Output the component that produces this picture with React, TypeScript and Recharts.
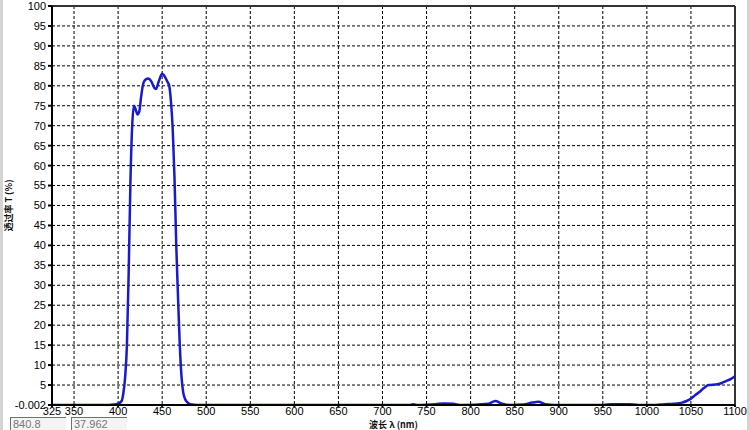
import React from 'react';
import { LineChart, Line, XAxis, YAxis, CartesianGrid, ReferenceLine } from 'recharts';

// wavelength (nm) and transmittance (%)
const wavelengths = [
  325, 350, 380, 390, 395, 400, 404, 406, 408, 410, 412, 414, 416, 418, 420, 422, 424, 426, 428, 430,
  434, 438, 441, 443, 446, 450, 453, 456, 458, 460, 462, 464, 466, 468, 470, 472, 474, 476, 478, 482,
  490, 500, 550, 600, 650, 700, 730, 735, 740, 760, 770, 780, 790, 820, 828, 835, 845, 860, 870, 877,
  885, 895, 950, 960, 980, 990, 1010, 1020, 1030, 1040, 1045, 1050, 1055, 1060, 1065, 1070, 1080, 1085,
  1090, 1095, 1100,
];
const transmittance = [
  0, 0, 0, 0, 0.1, 0.3, 1, 3, 7, 15, 33, 56, 70, 75, 74, 72.8, 73.5, 77, 80, 81.3,
  81.8, 81, 79.5, 79.2, 81, 83, 82.3, 81, 80, 76, 69, 57, 40, 27, 15, 7, 3, 1.5, 0.8, 0.2,
  0, 0, 0, 0, 0, 0, 0, 0.2, 0, 0.2, 0.4, 0.3, 0, 0.3, 1, 0.4, 0, 0.1, 0.6, 0.8,
  0.2, 0, 0, 0.2, 0.2, 0, 0, 0.2, 0.3, 0.6, 1, 1.6, 2.5, 3.3, 4.3, 5, 5.2, 5.5,
  6, 6.5, 7.2,
];

const xTicks = [325, 350, 400, 450, 500, 550, 600, 650, 700, 750, 800, 850, 900, 950, 1000, 1050, 1100];
const yTicks = [-0.002, 5, 10, 15, 20, 25, 30, 35, 40, 45, 50, 55, 60, 65, 70, 75, 80, 85, 90, 95, 100];

const xLabel = '波长 λ (nm)';
const yLabel = '透过率 T (%)';
const statusValues = ['840.8', '37.962'];

const data = wavelengths.map((w, i) => ({ w, t: transmittance[i] }));

const tickStyle = { fontSize: 11, fill: '#000', fontFamily: '"Liberation Sans", Arial, sans-serif' };
const labelFont = '"Noto Sans CJK SC", sans-serif';

export default function App() {
  return (
    <div style={{ position: 'absolute', left: 0, top: 0, width: 750, height: 430, background: '#fff', overflow: 'hidden' }}>
      <LineChart width={750} height={430} data={data} margin={{ top: 6, right: 15, left: 0, bottom: 0 }}>
        <CartesianGrid stroke="#000" strokeDasharray="3 2" strokeWidth={1} />
        <XAxis
          dataKey="w"
          type="number"
          domain={[325, 1100]}
          ticks={xTicks}
          interval={0}
          height={25}
          tickSize={2}
          tickMargin={0}
          tick={tickStyle}
          stroke="#000"
          strokeWidth={2}
          allowDataOverflow
          label={{ value: xLabel, position: 'insideBottom', offset: 2, style: { fontSize: 9, fontWeight: 'bold', fill: '#111', fontFamily: labelFont } }}
        />
        <YAxis
          type="number"
          domain={[-0.002, 100]}
          ticks={yTicks}
          interval={0}
          width={52}
          tickSize={4}
          tickMargin={2}
          tick={tickStyle}
          stroke="#000"
          strokeWidth={2}
          allowDataOverflow
          label={{ value: yLabel, angle: -90, position: 'insideLeft', offset: 9, style: { textAnchor: 'middle', fontSize: 9, fontWeight: 'bold', fill: '#111', fontFamily: labelFont } }}
        />
        <ReferenceLine y={100} stroke="#333" strokeWidth={2} />
        <ReferenceLine x={1100} stroke="#333" strokeWidth={2} />
        <Line
          type="monotone"
          dataKey="t"
          stroke="#1a1acd"
          strokeWidth={2.5}
          dot={false}
          isAnimationActive={false}
        />
      </LineChart>
      {/* window frame */}
      <div style={{ position: 'absolute', left: 0, top: 0, width: 3, height: 430, background: '#d4d4d4' }} />
      <div style={{ position: 'absolute', right: 0, top: 0, width: 3, height: 430, background: '#d4d4d4' }} />
      {statusValues.map((v, i) => (
        <div
          key={v}
          style={{
            position: 'absolute',
            left: 10 + i * 61,
            top: 417,
            width: 56,
            height: 16,
            borderTop: '1px solid #707070',
            borderLeft: '1px solid #707070',
            background: '#f4f4f4',
            fontFamily: '"Liberation Sans", Arial, sans-serif',
            fontSize: 11,
            color: '#777',
            lineHeight: '13px',
            paddingLeft: 2,
            boxSizing: 'border-box',
          }}
        >
          {v}
        </div>
      ))}
    </div>
  );
}
